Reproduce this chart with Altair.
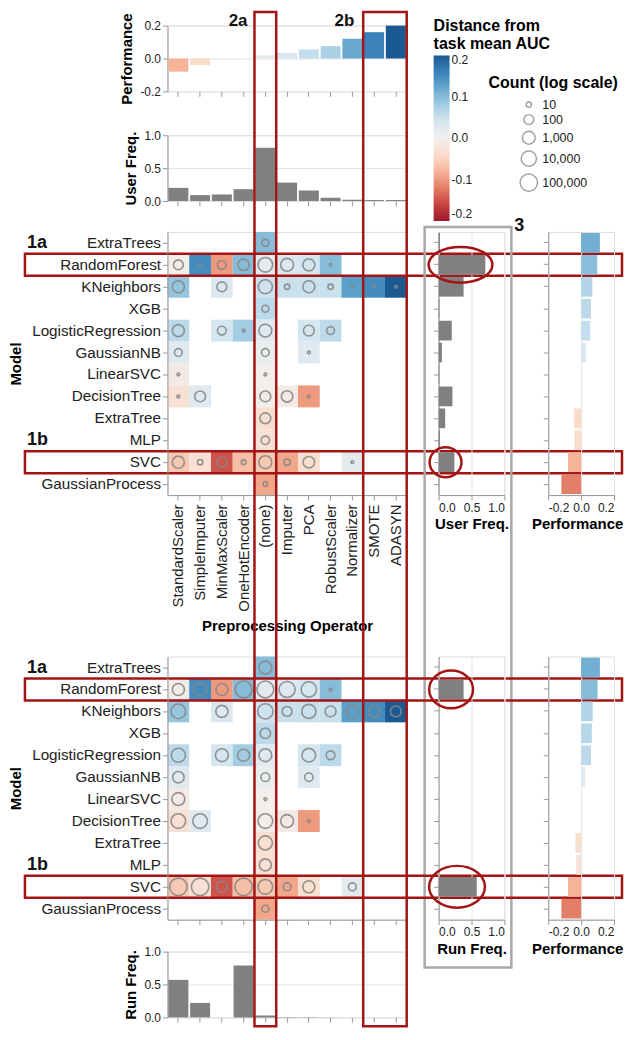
import altair as alt
import pandas as pd

# ---------------- data ----------------
OPS = ["StandardScaler", "SimpleImputer", "MinMaxScaler", "OneHotEncoder", "(none)",
       "Imputer", "PCA", "RobustScaler", "Normalizer", "SMOTE", "ADASYN"]
MODELS = ["ExtraTrees", "RandomForest", "KNeighbors", "XGB", "LogisticRegression",
          "GaussianNB", "LinearSVC", "DecisionTree", "ExtraTree", "MLP", "SVC",
          "GaussianProcess"]

OP_PERF = [-0.08, -0.04, -0.003, 0.004, 0.02, 0.035, 0.055, 0.075, 0.12, 0.16, 0.2]
OP_USER_FREQ = [0.2, 0.09, 0.1, 0.18, 0.81, 0.28, 0.16, 0.05, 0.02, 0.015, 0.015]
OP_RUN_FREQ = [0.57, 0.22, 0.0, 0.79, 0.03, 0.006, 0.005, 0.002, 0.0, 0.0, 0.0]

MODEL_USER_FREQ = [0.02, 0.71, 0.38, 0.01, 0.2, 0.05, 0.01, 0.21, 0.1, 0.02, 0.24, 0.005]
MODEL_USER_PERF = [0.114, 0.098, 0.068, 0.06, 0.055, 0.03, 0.003, 0.0, -0.043, -0.04, -0.08, -0.12]
MODEL_RUN_FREQ = [0.0, 0.38, 0.0, 0.0, 0.0, 0.0, 0.0, 0.0, 0.0, 0.0, 0.58, 0.0]
MODEL_RUN_PERF = [0.114, 0.1, 0.07, 0.065, 0.06, 0.025, 0.002, 0.0, -0.035, -0.03, -0.08, -0.12]

HEAT_MODEL = [
    "ExtraTrees",
    "RandomForest", "RandomForest", "RandomForest", "RandomForest",
    "RandomForest", "RandomForest", "RandomForest", "RandomForest",
    "KNeighbors", "KNeighbors", "KNeighbors", "KNeighbors", "KNeighbors",
    "KNeighbors", "KNeighbors", "KNeighbors", "KNeighbors",
    "XGB",
    "LogisticRegression", "LogisticRegression", "LogisticRegression",
    "LogisticRegression", "LogisticRegression", "LogisticRegression",
    "GaussianNB", "GaussianNB", "GaussianNB",
    "LinearSVC", "LinearSVC",
    "DecisionTree", "DecisionTree", "DecisionTree", "DecisionTree", "DecisionTree",
    "ExtraTree",
    "MLP",
    "SVC", "SVC", "SVC", "SVC", "SVC", "SVC", "SVC", "SVC",
    "GaussianProcess",
]
HEAT_OP = [
    "(none)",
    "StandardScaler", "SimpleImputer", "MinMaxScaler", "OneHotEncoder",
    "(none)", "Imputer", "PCA", "RobustScaler",
    "StandardScaler", "MinMaxScaler", "(none)", "Imputer", "PCA",
    "RobustScaler", "Normalizer", "SMOTE", "ADASYN",
    "(none)",
    "StandardScaler", "MinMaxScaler", "OneHotEncoder", "(none)", "PCA", "RobustScaler",
    "StandardScaler", "(none)", "PCA",
    "StandardScaler", "(none)",
    "StandardScaler", "SimpleImputer", "(none)", "Imputer", "PCA",
    "(none)",
    "(none)",
    "StandardScaler", "SimpleImputer", "MinMaxScaler", "OneHotEncoder",
    "(none)", "Imputer", "PCA", "Normalizer",
    "(none)",
]
HEAT_PERF = [
    0.10,
    -0.005, 0.15, -0.10, 0.10, 0.02, 0.03, 0.04, 0.10,
    0.09, 0.03, 0.045, 0.05, 0.05, 0.05, 0.13, 0.15, 0.2,
    0.06,
    0.06, 0.04, 0.08, 0.025, 0.04, 0.06,
    0.025, 0.01, 0.025,
    -0.01, -0.004,
    -0.03, 0.025, -0.005, -0.01, -0.10,
    -0.035,
    -0.03,
    -0.06, -0.03, -0.15, -0.07, -0.06, -0.09, -0.035, 0.02,
    -0.09,
]
USER_COUNT = [
    20,
    100, 5, 50, 300, 5000, 1000, 500, 5,
    500, 100, 3000, 10, 500, 10, 5, 5, 5,
    20,
    500, 50, 5, 1000, 200, 30,
    30, 30, 5,
    5, 5,
    5, 200, 200, 300, 5,
    200,
    40,
    500, 10, 100, 8, 1000, 15, 300, 5,
    8,
]
RUN_COUNT = [
    1000,
    500, 1000, 500, 50000, 50000, 20000, 10000, 5,
    5000, 500, 10000, 100, 3000, 200, 500, 300, 200,
    150,
    3000, 1000, 500, 1000, 2000, 50,
    300, 50, 40,
    1000, 5,
    5000, 5000, 5000, 1000, 5,
    3000,
    500,
    100000, 100000, 200, 100000, 5000, 30, 500, 30,
    20,
]

SIZE_LEGEND_VALUES = [10, 100, 1000, 10000, 100000]
COLOR_LEGEND_VALUES = [-0.2, -0.1, 0.0, 0.1, 0.2]

# ---------------- style / layout ----------------
FONT = "Liberation Sans"
RED = "#a31515"
BOX_GRAY = "#a9a9a9"
BAR_GRAY = "#808080"
HEAT_W, HEAT_H = 240, 264
STRIP_H = 66
SIDE_W = 66
GAP_A, GAP_B = 32, 44
ROW_GAPS = [44, 31, 162, 32]
STEP = HEAT_W / len(OPS)
MINUS = "replace(format(datum.value, '.1f'), '\u2212', '-')"
TOP = -15  # top of annotation marks relative to the first panel
STROKE_W = 2.5

color_legend = alt.Legend(
    title=["Distance from", " task mean AUC"], orient="none", legendX=267, legendY=TOP + 7,
    direction="vertical", gradientLength=166, gradientThickness=16,
    values=COLOR_LEGEND_VALUES, labelExpr=MINUS, titleFontSize=16, titleFontWeight="bold",
    titleLineHeight=18, labelFontSize=12, titlePadding=4, labelColor="#222")
size_legend = alt.Legend(
    title="Count (log scale)", orient="none", legendX=322, legendY=50, direction="vertical",
    values=SIZE_LEGEND_VALUES, format=",", titleFontSize=16, titleFontWeight="bold",
    titleAnchor="middle", labelFontSize=12.5, titlePadding=7, symbolType="circle",
    symbolStrokeColor="#999999", symbolStrokeWidth=1.5, rowPadding=0, labelColor="#222")


def color_enc():
    return alt.Color("perf:Q", legend=color_legend,
                     scale=alt.Scale(scheme=alt.SchemeParams(name="redblue", extent=[0.03, 0.97]),
                                     domain=[-0.2, 0.2], clamp=True))


def size_enc():
    return alt.Size("count:Q", legend=size_legend,
                    scale=alt.Scale(type="log", domain=[4, 100000], range=[1, 305]))


def spacer(w, h):
    return alt.Chart(alt.Data(values=[{"s": 0}])).mark_point(opacity=0).properties(
        width=w, height=h, view=alt.ViewBackground(stroke="transparent"))


num_axis = dict(labelFontSize=12, titleFontSize=15, titleFontWeight="bold", tickSize=5,
                labelPadding=2)


def op_strip(values, field, title, color_by_perf):
    df = pd.DataFrame({"op": OPS, field: values})
    x = alt.X("op:N", sort=OPS,
              scale=alt.Scale(type="band", domain=OPS, paddingInner=0.08, paddingOuter=0.04),
              axis=alt.Axis(labels=False, title="", tickSize=5, grid=False, domain=False))
    if field == "perf":
        yscale = alt.Scale(domain=[-0.2, 0.2])
        yvals = [-0.2, 0.0, 0.2]
    else:
        yscale = alt.Scale(domain=[0, 1])
        yvals = [0.0, 0.5, 1.0]
    y = alt.Y(f"{field}:Q", scale=yscale,
              axis=alt.Axis(values=yvals, labelExpr=MINUS, title=title, titlePadding=5,
                            grid=True, **num_axis))
    if color_by_perf:
        bars = alt.Chart(df).mark_bar().encode(x=x, y=y, color=color_enc())
    else:
        bars = alt.Chart(df).mark_bar(color=BAR_GRAY).encode(x=x, y=y)
    return bars


def heatmap(counts, show_labels):
    df = pd.DataFrame({"model": HEAT_MODEL, "op": HEAT_OP, "perf": HEAT_PERF, "count": counts})
    if show_labels:
        xax = alt.Axis(labelAngle=-90, labelFontSize=15, title="Preprocessing Operator",
                       titleFontSize=15, titleFontWeight="bold", tickSize=5, labelPadding=4,
                       titlePadding=7)
    else:
        xax = alt.Axis(labels=False, title="", tickSize=5)
    x = alt.X("op:N", sort=OPS, axis=xax,
              scale=alt.Scale(type="band", domain=OPS, paddingInner=0, paddingOuter=0))
    y = alt.Y("model:N", sort=MODELS,
              scale=alt.Scale(type="band", domain=MODELS, paddingInner=0, paddingOuter=0),
              axis=alt.Axis(title="Model", labelFontSize=15.3, titleFontSize=15,
                            titleFontWeight="bold", tickSize=5, labelPadding=2,
                            titlePadding=8))
    base = alt.Chart(df)
    cells = base.mark_rect().encode(x=x, y=y, color=color_enc())
    dots = base.mark_point(shape="circle", filled=False, stroke="#888888", strokeWidth=1.6,
                           opacity=0.9).encode(x=x, y=y, size=size_enc())
    box = alt.Chart(pd.DataFrame({"model": ["RandomForest", "SVC"]})).mark_rect(
        fillOpacity=0, stroke=RED, strokeWidth=STROKE_W).encode(
        y=y, x=alt.value(-143), x2=alt.value(456))
    labs = alt.Chart(pd.DataFrame({"model": ["ExtraTrees", "MLP"], "lab": ["1a", "1b"]})).mark_text(
        align="left", baseline="middle", fontSize=18, fontWeight="bold", font=FONT,
        color="#111").encode(y=y, x=alt.value(-141), text="lab:N")
    return alt.layer(cells, dots, box, labs).properties(width=HEAT_W, height=HEAT_H)


def ellipse_path(k):
    return f"M -1 0 A 1 {k} 0 1 1 1 0 A 1 {k} 0 1 1 -1 0 Z"


def model_freq(values, title, ellipses, with_box):
    df = pd.DataFrame({"model": MODELS, "freq": values})
    y = alt.Y("model:N", sort=MODELS,
              scale=alt.Scale(type="band", domain=MODELS, paddingInner=0.1, paddingOuter=0.05),
              axis=alt.Axis(labels=False, title="", tickSize=5))
    x = alt.X("freq:Q", scale=alt.Scale(domain=[0, 1]),
              axis=alt.Axis(values=[0.0, 0.5, 1.0], format=".1f", title=title, grid=True,
                            **num_axis))
    layers = [alt.Chart(df).mark_bar(color=BAR_GRAY).encode(x=x, y=y)]
    for model, cx, w, k in ellipses:
        edf = pd.DataFrame({"model": [model], "freq": [cx]})
        layers.append(alt.Chart(edf).mark_point(
            shape=ellipse_path(k), size=w * w, filled=False, stroke=RED, strokeWidth=STROKE_W,
            opacity=1).encode(x=x, y=y))
    if with_box:
        one = pd.DataFrame({"a": [0]})
        layers.append(alt.Chart(one).mark_rect(fillOpacity=0, stroke=BOX_GRAY, strokeWidth=STROKE_W)
                      .encode(x=alt.value(-14), x2=alt.value(73), y=alt.value(-5),
                              y2=alt.value(738)))
        layers.append(alt.Chart(one).mark_text(text="3", align="left", baseline="alphabetic",
                                               fontSize=18, fontWeight="bold", font=FONT,
                                               color="#111")
                      .encode(x=alt.value(76), y=alt.value(-1)))
    return alt.layer(*layers).properties(width=SIDE_W, height=HEAT_H)


def model_perf(values):
    df = pd.DataFrame({"model": MODELS, "perf": values})
    y = alt.Y("model:N", sort=MODELS,
              scale=alt.Scale(type="band", domain=MODELS, paddingInner=0.1, paddingOuter=0.05),
              axis=alt.Axis(labels=False, title="", tickSize=5))
    x = alt.X("perf:Q", scale=alt.Scale(domain=[-0.2, 0.2]),
              axis=alt.Axis(values=[-0.2, 0.0, 0.2], labelExpr=MINUS, title="Performance",
                            titleX=29, grid=True, **num_axis))
    return alt.Chart(df).mark_bar().encode(x=x, y=y, color=color_enc()).properties(
        width=SIDE_W, height=HEAT_H)


# top performance strip with "2a"/"2b" labels
perf_top = op_strip(OP_PERF, "perf", "Performance", True)
one = pd.DataFrame({"a": [0]})
lab2a = alt.Chart(one).mark_text(text="2a", align="right", baseline="top", fontSize=17,
                                 fontWeight="bold", font=FONT, color="#111").encode(
    x=alt.value(OPS.index("(none)") * STEP - 7), y=alt.value(TOP + 2))
lab2b = alt.Chart(one).mark_text(text="2b", align="right", baseline="top", fontSize=17,
                                 fontWeight="bold", font=FONT, color="#111").encode(
    x=alt.value(OPS.index("SMOTE") * STEP - 9), y=alt.value(TOP + 2))
perf_top = alt.layer(perf_top, lab2a, lab2b).properties(width=HEAT_W, height=STRIP_H)

uf_top = op_strip(OP_USER_FREQ, "freq", "User Freq.", False).properties(width=HEAT_W, height=STRIP_H)

# bottom run-frequency strip carries the column highlight boxes (drawn last)
run_bottom = op_strip(OP_RUN_FREQ, "freq", "Run Freq.", False)
col_top = TOP + STROKE_W / 2 - (STRIP_H + ROW_GAPS[0] + STRIP_H + ROW_GAPS[1] + HEAT_H
                                + ROW_GAPS[2] + HEAT_H + ROW_GAPS[3])
col_boxes = []
for first, last in [("(none)", "(none)"), ("SMOTE", "ADASYN")]:
    col_boxes.append(alt.Chart(one).mark_rect(fillOpacity=0, stroke=RED, strokeWidth=STROKE_W).encode(
        x=alt.value(OPS.index(first) * STEP), x2=alt.value((OPS.index(last) + 1) * STEP),
        y=alt.value(col_top), y2=alt.value(STRIP_H + 9)))
run_bottom = alt.layer(run_bottom, *col_boxes).properties(width=HEAT_W, height=STRIP_H)

heat_user = heatmap(USER_COUNT, True)
heat_run = heatmap(RUN_COUNT, False)
uf_side = model_freq(MODEL_USER_FREQ, "User Freq.",
                     [("RandomForest", 0.333, 64, 0.56), ("SVC", 0.106, 32, 0.94)], True)
rf_side = model_freq(MODEL_RUN_FREQ, "Run Freq.",
                     [("RandomForest", 0.19, 44, 0.86), ("SVC", 0.28, 56, 0.75)], False)
perf_side_user = model_perf(MODEL_USER_PERF)
perf_side_run = model_perf(MODEL_RUN_PERF)

COL_W = [HEAT_W, GAP_A, SIDE_W, GAP_B, SIDE_W]


def spacer_row(h):
    return [spacer(w, h) for w in COL_W]


cells = []
cells += [perf_top] + [spacer(w, STRIP_H) for w in COL_W[1:]]
cells += spacer_row(ROW_GAPS[0])
cells += [uf_top] + [spacer(w, STRIP_H) for w in COL_W[1:]]
cells += spacer_row(ROW_GAPS[1])
cells += [heat_user, spacer(GAP_A, HEAT_H), uf_side, spacer(GAP_B, HEAT_H), perf_side_user]
cells += spacer_row(ROW_GAPS[2])
cells += [heat_run, spacer(GAP_A, HEAT_H), rf_side, spacer(GAP_B, HEAT_H), perf_side_run]
cells += spacer_row(ROW_GAPS[3])
cells += [run_bottom] + [spacer(w, STRIP_H) for w in COL_W[1:]]

chart = alt.ConcatChart(concat=cells, columns=5, spacing=0, bounds="flush", align="each",
                        padding={"left": 0, "top": 0, "right": 0, "bottom": 0}
                        ).resolve_scale(color="shared", size="shared")
chart = chart.configure(font=FONT).configure_view(stroke="#dddddd").configure_axis(
    labelFont=FONT, titleFont=FONT, labelColor="#222222", titleColor="#000000",
    domainColor="#999999", tickColor="#999999", gridColor="#e3e3e3").configure_legend(
    labelFont=FONT, titleFont=FONT).configure_text(font=FONT)

chart.save("out.html", embed_options={"renderer": "svg", "actions": False})
